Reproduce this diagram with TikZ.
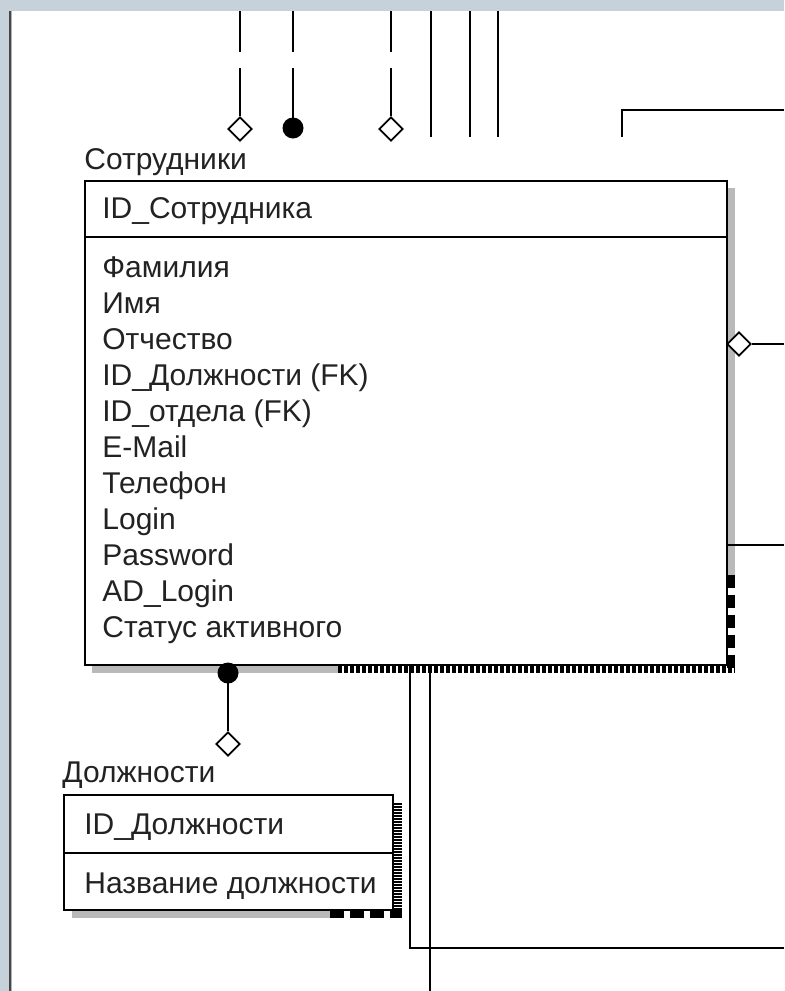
\documentclass[tikz,border=0pt]{standalone}
\usepackage{fontspec}
\setmainfont{Liberation Sans}
\usetikzlibrary{shapes.geometric,positioning,calc}

\definecolor{frameband}{HTML}{C6D1D9}
\definecolor{ink}{HTML}{222222}

\begin{document}
\begin{tikzpicture}[
  x=0.5pt,y=-0.5pt,
  entity/.style={draw,line width=1pt,fill=white,inner sep=0pt},
  sepline/.style={line width=1pt},
  lab/.style={anchor=west,inner sep=0pt,text=ink,font=\fontsize{15}{18}\selectfont,
    text height=10.5pt,text depth=3pt},
  rel/.style={line width=1pt},
  hollow/.style={diamond,draw,fill=white,line width=0.9pt,inner sep=0pt,
    minimum width=12pt,minimum height=12pt},
  blob/.style={circle,fill=black,inner sep=0pt,minimum size=10.5pt},
  shade/.style={line width=4pt,draw=gray!55},
  hatch/.style={line width=4pt,dash pattern=on 2pt off 1pt},
  hstripe/.style={line width=4pt,dash pattern=on 0.9pt off 0.6pt}
]
\useasboundingbox (0,0) rectangle (784,991);

% -------------------------
% Window background
% -------------------------
\fill[frameband] (0,0) rectangle (784,991);
\fill[white] (12,11) rectangle (784,991);
\draw[gray!55!black,line width=1pt] (10,11) -- (10,991);
\draw[gray!60,line width=0.5pt] (11.5,11) -- (11.5,991);

% -------------------------
% Entity: Сотрудники
% -------------------------
% shadow first, box on top
\draw[shade] (731,188) -- (731,575);
\draw[hatch,dash pattern=on 6.5pt off 3.5pt] (731,575) -- (731,669);
\draw[shade] (92,669) -- (338,669);
\draw[hatch] (338,669) -- (735,669);

\node[entity,minimum width=321pt,minimum height=242pt] (emp) at (406,423) {};
\node[lab] (emp_title) at (84,162) {Сотрудники};
\draw[sepline] (emp.west |- 0,237) -- (emp.east |- 0,237);

\node[lab] (emp_pk) at (102,211) {ID\_Сотрудника};
\node[lab] (a1)  at (102,270) {Фамилия};
\node[lab] (a2)  at (102,306) {Имя};
\node[lab] (a3)  at (102,342) {Отчество};
\node[lab] (a4)  at (102,378) {ID\_Должности (FK)};
\node[lab] (a5)  at (102,414) {ID\_отдела (FK)};
\node[lab] (a6)  at (102,450) {E-Mail};
\node[lab] (a7)  at (102,486) {Телефон};
\node[lab] (a8)  at (102,522) {Login};
\node[lab] (a9)  at (102,558) {Password};
\node[lab] (a10) at (102,594) {AD\_Login};
\node[lab] (a11) at (102,630) {Статус активного};

% -------------------------
% Entity: Должности
% -------------------------
\draw[hstripe] (398,803) -- (398,911);
\draw[shade] (72,914) -- (330,914);
\draw[hatch,dash pattern=on 7pt off 3pt] (330,914) -- (402,914);

\node[entity,minimum width=164.5pt,minimum height=57.5pt] (pos) at (228.5,852.5) {};
\node[lab] (pos_title) at (62,775) {Должности};
\draw[sepline] (pos.west |- 0,853) -- (pos.east |- 0,853);
\node[lab] (pos_pk) at (84,827) {ID\_Должности};
\node[lab] (b1) at (84,886) {Название должности};

% -------------------------
% Relationships from above
% -------------------------
\coordinate (gaptop) at (0,52);
\coordinate (gapbot) at (0,68);
\coordinate (stub) at (0,137);
\coordinate (t1) at (240,11);
\coordinate (t2) at (293,11);
\coordinate (t3) at (391,11);
\coordinate (t4) at (431,11);
\coordinate (t5) at (470,11);
\coordinate (t6) at (498,11);

\node[hollow] (d1) at (240,129) {};
\node[blob]   (d2) at (293,128) {};
\node[hollow] (d3) at (391,129) {};

\draw[rel] (t1) -- (t1 |- gaptop) (t1 |- gapbot) -- (d1.north);
\draw[rel] (t2) -- (t2 |- gaptop) (t2 |- gapbot) -- (d2.center);
\draw[rel] (t3) -- (t3 |- gaptop) (t3 |- gapbot) -- (d3.north);
\draw[rel] (t4) -- (t4 |- stub);
\draw[rel] (t5) -- (t5 |- stub);
\draw[rel] (t6) -- (t6 |- stub);

\coordinate (k1) at (622,137);
\coordinate (k2) at (784,110);
\draw[rel] (k1) |- (k2);

% -------------------------
% Relationships to the right
% -------------------------
\node[hollow] (rd) at (739,344) {};
\coordinate (r1) at (784,344);
\draw[rel] (rd.east) -- (r1);

\coordinate (r2) at (784,545);
\draw[rel] (r2 -| emp.east) -- (r2);

% -------------------------
% Сотрудники -> Должности
% -------------------------
\node[blob] (bb) at (228,673) {};
\node[hollow] (dd) at (228,744) {};
\draw[rel] (bb.center) -- (dd.north);

% -------------------------
% Relationships going down
% -------------------------
\coordinate (c1) at (410,948);
\coordinate (e1) at (784,948);
\coordinate (e2) at (430,991);
\draw[rel] (c1 |- emp.south) -- (c1) -- (e1);
\draw[rel] (e2 |- emp.south) -- (e2);

\end{tikzpicture}
\end{document}
